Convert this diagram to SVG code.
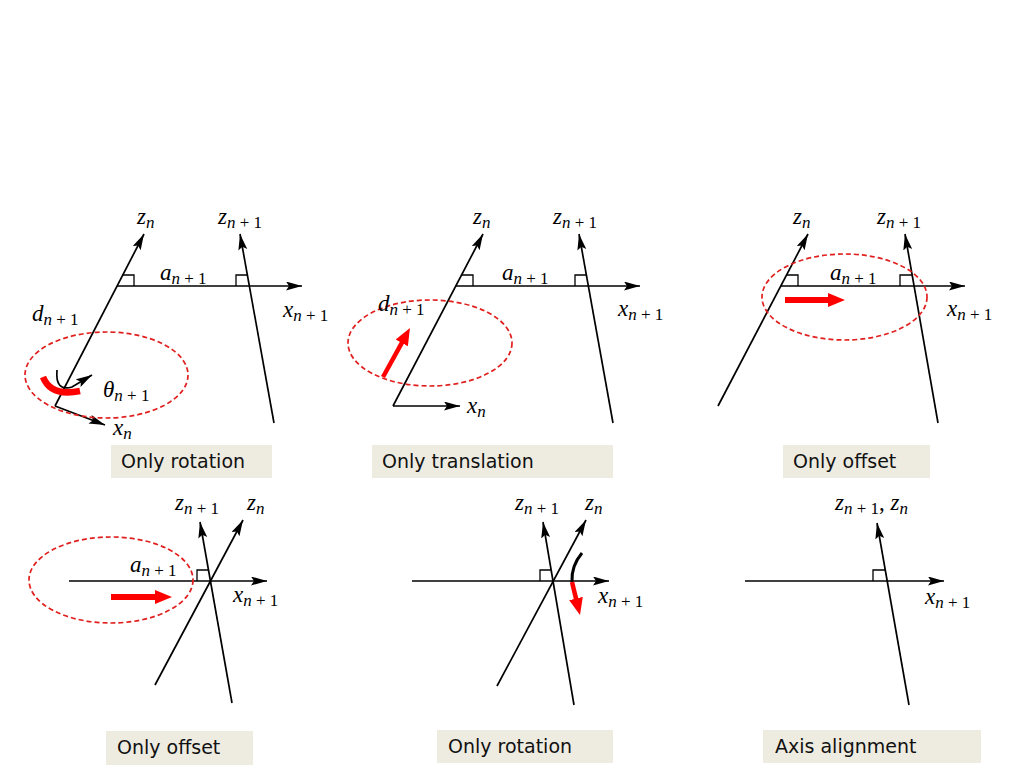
<svg xmlns="http://www.w3.org/2000/svg" width="1024" height="768" viewBox="0 0 1024 768">
<style>
.ax{stroke:#000;stroke-width:1.7;fill:none}
.axm{stroke:#000;stroke-width:1.7;fill:none;marker-end:url(#ab)}
.ra{stroke:#000;stroke-width:1.3;fill:none}
.el{stroke:#E0201F;stroke-width:1.7;fill:none;stroke-dasharray:5 3}
.rar{stroke:#FF0000;fill:none;marker-end:url(#ar)}
.m{font-family:"Liberation Serif","Times New Roman",serif;font-style:italic;font-size:23px;fill:#000}
.s{font-size:17px}
.u{font-style:normal}
.box{fill:#EEECE1}
.bt{font-family:"DejaVu Sans",Verdana,sans-serif;font-size:19px;fill:#111}
</style>
<defs>
<marker id="ab" markerUnits="userSpaceOnUse" markerWidth="18" markerHeight="12" refX="16" refY="4.5" orient="auto" viewBox="0 0 18 12">
<path d="M0,0 L16,4.5 L0,9 L3,4.5 z" fill="#000"/>
</marker>
<marker id="ar" markerUnits="userSpaceOnUse" markerWidth="20" markerHeight="16" refX="3" refY="7" orient="auto" viewBox="0 0 20 16">
<path d="M0,0 L17,7 L0,14 z" fill="#FF0000"/>
</marker>
</defs>

<g id="connectors">
<!-- panel 1 -->
<line class="axm" x1="55" y1="406" x2="144" y2="234"/>
<line class="axm" x1="55" y1="406" x2="105" y2="425"/>
<line class="axm" x1="117" y1="286" x2="302" y2="286"/>
<line class="axm" x1="274" y1="423" x2="240" y2="234"/>
<polyline class="ra" points="122.5,275 134,275 134,286"/>
<polyline class="ra" points="236,286 236,275 247.4,275"/>
<!-- panel 2 -->
<line class="axm" x1="393" y1="406" x2="483" y2="234"/>
<line class="axm" x1="393" y1="406" x2="460" y2="406"/>
<line class="axm" x1="455.8" y1="286" x2="640" y2="286"/>
<line class="axm" x1="613" y1="423" x2="579" y2="234"/>
<polyline class="ra" points="461.5,275 473,275 473,286"/>
<polyline class="ra" points="575,286 575,275 586.4,275"/>
<!-- panel 3 -->
<line class="axm" x1="718" y1="406" x2="808" y2="234"/>
<line class="axm" x1="781" y1="286" x2="965" y2="286"/>
<line class="axm" x1="938" y1="423" x2="905" y2="234"/>
<polyline class="ra" points="786.5,275 798,275 798,286"/>
<polyline class="ra" points="900,286 900,275 912.2,275"/>
<!-- panel 4 -->
<line class="axm" x1="69" y1="581" x2="267" y2="581"/>
<line class="axm" x1="232" y1="703" x2="200" y2="522"/>
<line class="axm" x1="155" y1="685" x2="243" y2="520"/>
<polyline class="ra" points="197,581 197,570 208.5,570"/>
<!-- panel 5 -->
<line class="axm" x1="412" y1="581" x2="609" y2="581"/>
<line class="axm" x1="574" y1="705" x2="543" y2="522"/>
<line class="axm" x1="497" y1="686" x2="586" y2="520"/>
<polyline class="ra" points="540,581 540,570 551.1,570"/>
<!-- panel 6 -->
<line class="axm" x1="745" y1="581" x2="944" y2="581"/>
<line class="axm" x1="909" y1="705" x2="877" y2="523"/>
<polyline class="ra" points="873,581 873,570 885.3,570"/>
</g>

<g id="rotation-1">
<ellipse class="el" cx="106.5" cy="375" rx="81.5" ry="43"/>
<path d="M43,377 Q51,397 80,391" stroke="#FF0000" stroke-width="6.5" fill="none"/>
<path d="M57,370 Q55,392 72,387 L92,375" class="ax" stroke-width="2.2" marker-end="url(#ab)"/>
<text class="m" x="32" y="321">d<tspan class="s" dy="4">n <tspan class="u">+ 1</tspan></tspan></text>
<text class="m" x="103" y="397">θ<tspan class="s" dy="4">n <tspan class="u">+ 1</tspan></tspan></text>
<text class="m" x="113" y="435">x<tspan class="s" dy="4">n</tspan></text>
<text class="m" x="137" y="224">z<tspan class="s" dy="4">n</tspan></text>
<text class="m" x="218" y="224">z<tspan class="s" dy="4">n <tspan class="u">+ 1</tspan></tspan></text>
<text class="m" x="160" y="280">a<tspan class="s" dy="4">n <tspan class="u">+ 1</tspan></tspan></text>
<text class="m" x="283" y="317">x<tspan class="s" dy="4">n <tspan class="u">+ 1</tspan></tspan></text>
<rect class="box" x="111" y="445" width="161" height="33"/>
<text class="bt" x="121" y="468">Only rotation</text>
</g>

<g id="translation-2">
<ellipse class="el" cx="430" cy="343" rx="82" ry="43"/>
<line class="rar" stroke-width="4.5" x1="383" y1="377" x2="403.2" y2="340.3"/>
<text class="m" x="378" y="311">d<tspan class="s" dy="4">n <tspan class="u">+ 1</tspan></tspan></text>
<text class="m" x="467" y="413">x<tspan class="s" dy="4">n</tspan></text>
<text class="m" x="473" y="224">z<tspan class="s" dy="4">n</tspan></text>
<text class="m" x="553" y="224">z<tspan class="s" dy="4">n <tspan class="u">+ 1</tspan></tspan></text>
<text class="m" x="502" y="280">a<tspan class="s" dy="4">n <tspan class="u">+ 1</tspan></tspan></text>
<text class="m" x="618" y="316">x<tspan class="s" dy="4">n <tspan class="u">+ 1</tspan></tspan></text>
<rect class="box" x="372" y="445" width="241" height="33"/>
<text class="bt" x="382" y="468">Only translation</text>
</g>

<g id="offset-3">
<ellipse class="el" cx="844.5" cy="297" rx="82.5" ry="43"/>
<line class="rar" stroke-width="6" x1="785" y1="300" x2="831" y2="300"/>
<text class="m" x="793" y="224">z<tspan class="s" dy="4">n</tspan></text>
<text class="m" x="877" y="224">z<tspan class="s" dy="4">n <tspan class="u">+ 1</tspan></tspan></text>
<text class="m" x="830" y="280">a<tspan class="s" dy="4">n <tspan class="u">+ 1</tspan></tspan></text>
<text class="m" x="947" y="316">x<tspan class="s" dy="4">n <tspan class="u">+ 1</tspan></tspan></text>
<rect class="box" x="783" y="445" width="147" height="33"/>
<text class="bt" x="793" y="468">Only offset</text>
</g>

<g id="offset-4">
<ellipse class="el" cx="111" cy="580" rx="82" ry="43"/>
<line class="rar" stroke-width="6" x1="111" y1="597" x2="158" y2="597"/>
<text class="m" x="175" y="510">z<tspan class="s" dy="4">n <tspan class="u">+ 1</tspan></tspan></text>
<text class="m" x="247" y="510">z<tspan class="s" dy="4">n</tspan></text>
<text class="m" x="130" y="572">a<tspan class="s" dy="4">n <tspan class="u">+ 1</tspan></tspan></text>
<text class="m" x="233" y="602">x<tspan class="s" dy="4">n <tspan class="u">+ 1</tspan></tspan></text>
<rect class="box" x="106" y="731" width="147" height="34"/>
<text class="bt" x="117" y="754">Only offset</text>
</g>

<g id="rotation-5">
<path d="M582,553 Q571,566 572,582" stroke="#000" stroke-width="3" fill="none"/>
<line class="rar" stroke-width="4.5" x1="572" y1="582" x2="576.7" y2="601.4"/>
<text class="m" x="515" y="510">z<tspan class="s" dy="4">n <tspan class="u">+ 1</tspan></tspan></text>
<text class="m" x="585" y="510">z<tspan class="s" dy="4">n</tspan></text>
<text class="m" x="598" y="603">x<tspan class="s" dy="4">n <tspan class="u">+ 1</tspan></tspan></text>
<rect class="box" x="437" y="730" width="176" height="33"/>
<text class="bt" x="448" y="753">Only rotation</text>
</g>

<g id="alignment-6">
<text class="m" x="835" y="510">z<tspan class="s" dy="4">n <tspan class="u">+ 1</tspan></tspan><tspan dy="-4" class="u">, </tspan>z<tspan class="s" dy="4">n</tspan></text>
<text class="m" x="925" y="604">x<tspan class="s" dy="4">n <tspan class="u">+ 1</tspan></tspan></text>
<rect class="box" x="763" y="730" width="218" height="33"/>
<text class="bt" x="775" y="753">Axis alignment</text>
</g>
</svg>
